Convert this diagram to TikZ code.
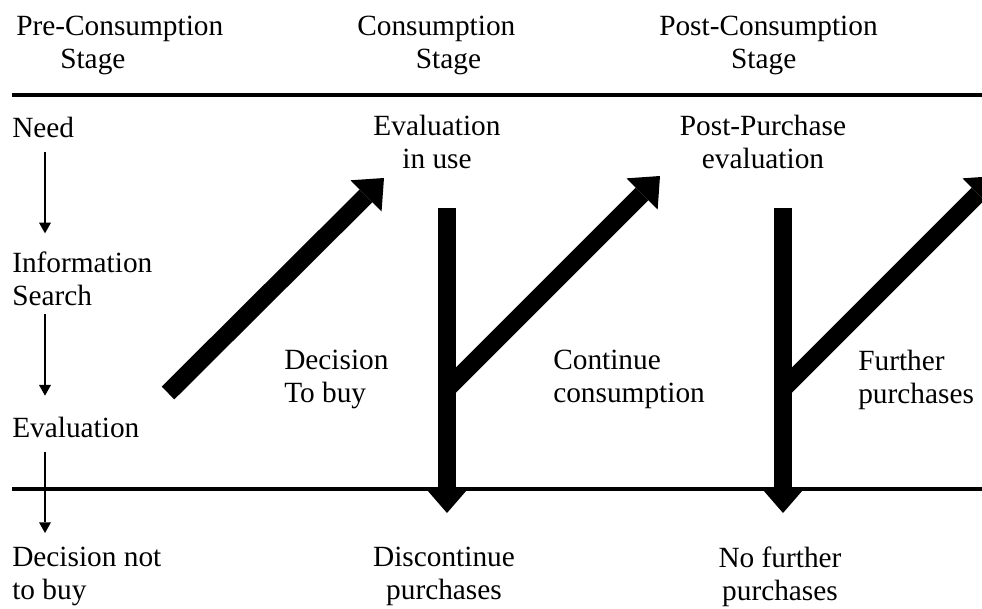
\documentclass[tikz,border=0pt]{standalone}
\usepackage{fontspec}
\setmainfont{Liberation Serif}
\usetikzlibrary{arrows.meta,calc,math}

\tikzset{
  lbl/.style={inner sep=0pt, font=\fontsize{22pt}{24.75pt}\selectfont},
  rule/.style={line width=3pt},
  thinflow/.style={line width=2pt, -{Triangle[length=8pt,width=9pt,line width=0pt]}},
  bigflow/.style={line width=13.5pt, -{Triangle[length=19pt,width=33pt,line width=0pt]}},
}

\begin{document}
\begin{tikzpicture}[x=0.75pt,y=-0.75pt]
  \tikzmath{
    real \rise;
    \rise = 213;
  }
  \useasboundingbox (0,0) rectangle (982,609);
  \clip (0,0) rectangle (982,609);

  % headings and the two rules
  \node[lbl,anchor=north west,align=left] (pre) at (16,16) {Pre-Consumption\\\hspace*{1.5em}Stage};
  \node[lbl,anchor=north west,align=left] (cons) at (357,16) {Consumption\\\hspace*{2em}Stage};
  \node[lbl,anchor=north west,align=left] (post) at (659,16) {Post-Consumption\\\hspace*{2.45em}Stage};

  \draw[rule] (12,95) -- (982,95);
  \draw[rule] (12,489) -- (982,489);

  % pre-consumption column
  \node[lbl,anchor=north west] (need) at (12,117) {Need};
  \node[lbl,anchor=north west,align=left] (search) at (12,252) {Information\\Search};
  \node[lbl,anchor=north west] (eval) at (12,417) {Evaluation};
  \node[lbl,anchor=north west,align=left] (nobuy) at (12,547) {Decision not\\to buy};

  \coordinate (col) at (45,0);
  \draw[thinflow] ([yshift=-10pt]need.south -| col) -- ([yshift=14pt]search.north -| col);
  \draw[thinflow] ([yshift=-6pt]search.south -| col) -- ([yshift=16pt]eval.north -| col);
  \draw[thinflow] ([yshift=-10pt]eval.south -| col) -- ([yshift=10.5pt]nobuy.north -| col);

  % labels
  \node[lbl,anchor=north,align=center] (use) at (437,115) {Evaluation\\in use};
  \node[lbl,anchor=north,align=center] (ppe) at (763,115) {Post-Purchase\\evaluation};
  \node[lbl,anchor=north west,align=left] (buy) at (284,350) {Decision\\To buy};
  \node[lbl,anchor=north west,align=left] (cont) at (553,350) {Continue\\consumption};
  \node[lbl,anchor=north west,align=left] (further) at (858,350) {Further\\purchases};
  \node[lbl,anchor=north,align=center] (discont) at (444,547) {Discontinue\\purchases};
  \node[lbl,anchor=north,align=center] (nofurther) at (780,547) {No further\\purchases};

  % thick arrows
  \coordinate (go) at (168,393);
  \coordinate (tip0) at (384,178);
  \draw[bigflow] (go) -- (tip0);

  \foreach \x [count=\n] in {447,783} {
    \coordinate (top\n) at (\x,208);
    \coordinate (fork\n) at (\x,389);
    \coordinate (tip\n) at (\x+\rise,389-\rise);
  }
  \draw[bigflow] (top1) -- ([yshift=25.5pt]discont.north -| top1);
  \draw[bigflow] (fork1) -- (tip1);
  \draw[bigflow] (top2) -- ([yshift=25.5pt]nofurther.north -| top2);
  \draw[bigflow] (fork2) -- (tip2);
\end{tikzpicture}
\end{document}
